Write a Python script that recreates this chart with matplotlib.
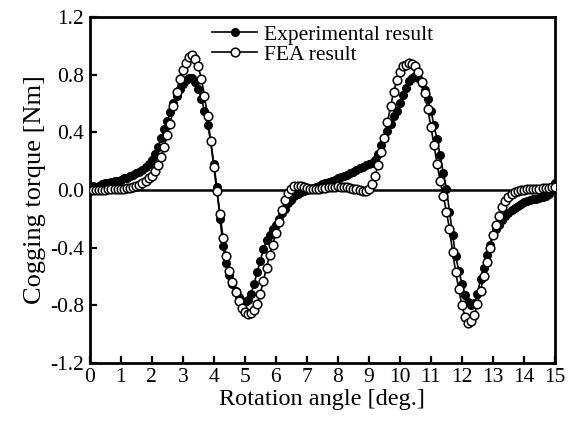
import numpy as np
import matplotlib
matplotlib.use("Agg")
import matplotlib.pyplot as plt

plt.rcParams['font.family'] = ['Liberation Serif', 'DejaVu Serif']
plt.rcParams['axes.unicode_minus'] = False

# rotation angle [deg.], 0.1 deg step
angle = np.round(np.arange(0, 151) * 0.1, 1)

exp_torque = [
    0.02, 0.03, 0.02, 0.03, 0.04, 0.045, 0.05, 0.055, 0.06, 0.065,
    0.07, 0.08, 0.085, 0.095, 0.105, 0.115, 0.125, 0.14, 0.16, 0.18,
    0.21, 0.25, 0.30, 0.36, 0.42, 0.48, 0.54, 0.60, 0.65, 0.70,
    0.735, 0.76, 0.78, 0.78, 0.75, 0.70, 0.63, 0.55, 0.45, 0.34,
    0.18, 0.02, -0.20, -0.39, -0.51, -0.59, -0.65, -0.70, -0.74, -0.77,
    -0.78, -0.765, -0.72, -0.65, -0.57, -0.49, -0.41, -0.35, -0.31, -0.27,
    -0.24, -0.20, -0.16, -0.13, -0.09, -0.07, -0.045, -0.03, -0.015, -0.005,
    0.0, 0.008, 0.015, 0.023, 0.03, 0.038, 0.045, 0.055, 0.063, 0.07,
    0.08, 0.088, 0.095, 0.105, 0.115, 0.125, 0.14, 0.15, 0.16, 0.17,
    0.18, 0.19, 0.21, 0.25, 0.31, 0.36, 0.41, 0.46, 0.51, 0.55,
    0.60, 0.66, 0.71, 0.755, 0.78, 0.79, 0.78, 0.74, 0.69, 0.63,
    0.55, 0.45, 0.35, 0.24, 0.12, 0.01, -0.15, -0.31, -0.46, -0.56,
    -0.65, -0.73, -0.78, -0.80, -0.785, -0.72, -0.62, -0.54, -0.45, -0.38,
    -0.31, -0.27, -0.24, -0.21, -0.18, -0.16, -0.14, -0.125, -0.11, -0.095,
    -0.085, -0.08, -0.07, -0.065, -0.06, -0.055, -0.05, -0.04, -0.03, 0.00,
    0.05,
]

fea_torque = [
    0.0, 0.0, 0.0, 0.0, 0.0, 0.0, 0.005, 0.005, 0.01, 0.01,
    0.01, 0.01, 0.015, 0.015, 0.02, 0.025, 0.035, 0.045, 0.06, 0.08,
    0.10, 0.13, 0.17, 0.23, 0.30, 0.38, 0.46, 0.58, 0.68, 0.77,
    0.83, 0.88, 0.92, 0.935, 0.91, 0.86, 0.77, 0.65, 0.51, 0.34,
    0.16, -0.01, -0.17, -0.33, -0.46, -0.56, -0.64, -0.71, -0.77, -0.82,
    -0.85, -0.86, -0.855, -0.83, -0.79, -0.72, -0.63, -0.54, -0.45, -0.38,
    -0.30, -0.22, -0.14, -0.07, -0.02, 0.01, 0.025, 0.03, 0.028, 0.02,
    0.015, 0.01, 0.008, 0.007, 0.01, 0.013, 0.017, 0.02, 0.022, 0.023,
    0.024, 0.023, 0.022, 0.018, 0.014, 0.01, 0.005, -0.002, -0.008, -0.01,
    0.005, 0.04, 0.10, 0.17, 0.26, 0.36, 0.47, 0.58, 0.68, 0.76,
    0.82, 0.86, 0.87, 0.88, 0.875, 0.86, 0.82, 0.75, 0.67, 0.56,
    0.44, 0.31, 0.18, 0.06, -0.04, -0.15, -0.27, -0.43, -0.57, -0.69,
    -0.80, -0.88, -0.92, -0.91, -0.87, -0.79, -0.70, -0.60, -0.50, -0.40,
    -0.31, -0.24, -0.18, -0.12, -0.08, -0.05, -0.03, -0.015, -0.005, 0.0,
    0.003, 0.005, 0.007, 0.008, 0.01, 0.01, 0.012, 0.014, 0.016, 0.018,
    0.02,
]

xticks = list(range(0, 16))
yticks = [-1.2, -0.8, -0.4, 0.0, 0.4, 0.8, 1.2]

fig = plt.figure(figsize=(5.68, 4.24), dpi=100)
ax = fig.add_axes([0.158, 0.144, 0.819, 0.816])

ax.axhline(0, color='black', lw=1.8, zorder=1)

ax.plot(angle, exp_torque, color='black', lw=1.2, marker='o', ms=5.5,
        mfc='black', mec='black', label='Experimental result', zorder=2)
ax.plot(angle, fea_torque, color='black', lw=1.2, marker='o', ms=6.2,
        mfc='white', mec='black', mew=1.1, label='FEA result', zorder=3)

ax.set_xlim(0, 15)
ax.set_ylim(-1.2, 1.2)
ax.set_xticks(xticks)
ax.set_xticklabels([str(t) for t in xticks])
ax.set_yticks(yticks)
ax.set_yticklabels(['%.1f' % t for t in yticks])
ax.tick_params(direction='in', length=5, width=1.6, labelsize=15.5,
               top=False, right=False, pad=4)
for s in ax.spines.values():
    s.set_linewidth(2.0)

ax.set_xlabel('Rotation angle [deg.]', fontsize=17.5, labelpad=1)
ax.set_ylabel('Cogging torque [Nm]', fontsize=19, labelpad=3)

ax.legend(loc='upper left', bbox_to_anchor=(0.235, 1.015), frameon=False,
          fontsize=15.5, handlelength=2.1, handletextpad=0.3,
          labelspacing=0.0, borderaxespad=0.2)

fig.savefig('out.png', dpi=100)
